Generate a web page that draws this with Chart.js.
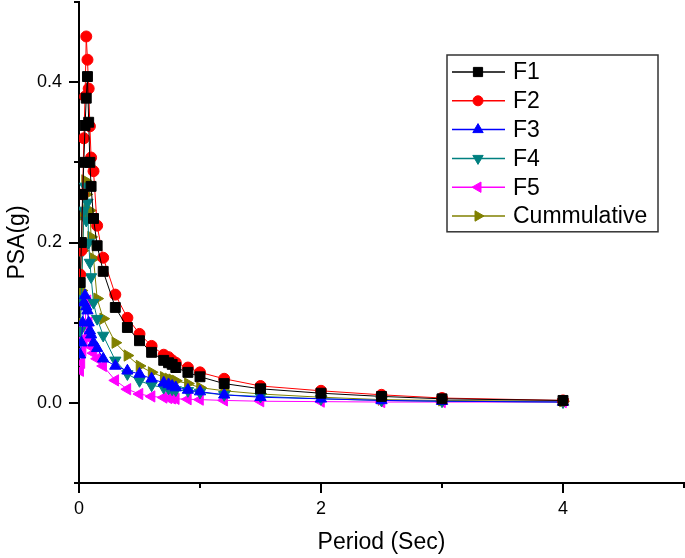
<!DOCTYPE html>
<html>
<head>
<meta charset="utf-8">
<script src="https://cdn.jsdelivr.net/npm/chart.js@4/dist/chart.umd.min.js"></script>
<style>
  html, body { margin: 0; padding: 0; background: #fff; }
</style>
</head>
<body>
<canvas id="psa" width="685" height="558"></canvas>
<script>
// Period (Sec)
let periods = [0.01, 0.02, 0.03, 0.04, 0.05, 0.06, 0.07, 0.08, 0.09, 0.1, 0.12, 0.15, 0.2, 0.3, 0.4, 0.5, 0.6, 0.7, 0.74, 0.77, 0.8, 0.9, 1.0, 1.2, 1.5, 2.0, 2.5, 3.0, 4.0];

// PSA(g) per source
let f1 = [0.15, 0.2, 0.26, 0.3, 0.346, 0.38, 0.407, 0.35, 0.3, 0.27, 0.23, 0.196, 0.164, 0.119, 0.094, 0.0775, 0.063, 0.053, 0.05, 0.048, 0.044, 0.038, 0.0325, 0.024, 0.0175, 0.012, 0.008, 0.005, 0.003];
let f2 = [0.16, 0.19, 0.26, 0.33, 0.382, 0.457, 0.428, 0.392, 0.345, 0.306, 0.289, 0.221, 0.181, 0.135, 0.106, 0.086, 0.071, 0.06, 0.057, 0.053, 0.05, 0.044, 0.038, 0.03, 0.021, 0.015, 0.01, 0.006, 0.003];
let f3 = [0.06, 0.075, 0.1, 0.125, 0.134, 0.12, 0.115, 0.1, 0.09, 0.085, 0.075, 0.068, 0.055, 0.046, 0.04, 0.036, 0.03, 0.025, 0.023, 0.021, 0.019, 0.016, 0.014, 0.01, 0.007, 0.005, 0.003, 0.002, 0.001];
let f4 = [0.09, 0.13, 0.19, 0.24, 0.27, 0.2275, 0.25, 0.2, 0.175, 0.157, 0.125, 0.105, 0.084, 0.053, 0.036, 0.0275, 0.022, 0.019, 0.018, 0.017, 0.016, 0.015, 0.013, 0.01, 0.008, 0.005, 0.003, 0.002, 0.001];
let f5 = [0.04, 0.05, 0.065, 0.08, 0.096, 0.124, 0.1275, 0.1, 0.08, 0.07, 0.062, 0.055, 0.046, 0.028, 0.017, 0.011, 0.008, 0.0066, 0.006, 0.0055, 0.005, 0.0045, 0.004, 0.003, 0.002, 0.0015, 0.001, 0.001, 0.001];
let cumm = [0.1, 0.14, 0.19, 0.235, 0.2775, 0.26, 0.24, 0.23, 0.24, 0.207, 0.18, 0.13, 0.105, 0.075, 0.059, 0.046, 0.038, 0.032, 0.03, 0.029, 0.0275, 0.024, 0.019, 0.015, 0.011, 0.007, 0.004, 0.003, 0.002];

let seriesNames = ["F1", "F2", "F3", "F4", "F5", "Cummulative"];

const FONT = "'Liberation Sans', Arial, sans-serif";

function pts(vals) {
  return periods.map((t, i) => ({ x: t, y: vals[i] }));
}

function series(label, vals, color, style, rotation, radius) {
  return {
    label: label,
    data: pts(vals),
    showLine: true,
    borderColor: color,
    backgroundColor: color,
    borderWidth: 1,
    pointStyle: style,
    rotation: rotation,
    pointRadius: radius,
    pointBorderWidth: 1,
    pointBackgroundColor: color,
    pointBorderColor: color,
  };
}

// tick marks: long on labelled values, short in between
const tickMarks = {
  id: "tickMarks",
  afterDraw(chart) {
    const ctx = chart.ctx;
    const xs = chart.scales.x;
    const ys = chart.scales.y;
    ctx.save();
    ctx.strokeStyle = "#000";
    ctx.lineWidth = 2;
    xs.ticks.forEach((t) => {
      const px = Math.round(xs.getPixelForValue(t.value));
      const len = Math.round(t.value) % 2 === 0 ? 10 : 5;
      ctx.beginPath();
      ctx.moveTo(px, xs.top);
      ctx.lineTo(px, xs.top + len);
      ctx.stroke();
    });
    ys.ticks.forEach((t) => {
      const py = Math.round(ys.getPixelForValue(t.value));
      const k = Math.round(t.value * 10);
      const len = k >= 0 && k % 2 === 0 ? 10 : 5;
      ctx.beginPath();
      ctx.moveTo(ys.right, py);
      ctx.lineTo(ys.right - len, py);
      ctx.stroke();
    });
    ctx.restore();
  },
};

// boxed legend inside the plot area
const boxLegend = {
  id: "boxLegend",
  afterDraw(chart) {
    const ctx = chart.ctx;
    const area = chart.chartArea;
    const right = area.right - 26;
    const left = right - 211;
    const top = area.top + 53;
    const rowH = 28.8;
    const sets = chart.data.datasets;
    ctx.save();
    ctx.strokeStyle = "#333";
    ctx.lineWidth = 1.5;
    ctx.strokeRect(left, top, right - left, rowH * sets.length + 4);
    sets.forEach((ds, i) => {
      const y = top + 17 + i * rowH;
      ctx.strokeStyle = ds.borderColor;
      ctx.lineWidth = 1.5;
      ctx.beginPath();
      ctx.moveTo(left + 5, y);
      ctx.lineTo(left + 58, y);
      ctx.stroke();
      ctx.fillStyle = ds.backgroundColor;
      ctx.strokeStyle = ds.borderColor;
      ctx.lineWidth = 1;
      Chart.helpers.drawPoint(ctx, {
        pointStyle: ds.pointStyle,
        rotation: ds.rotation,
        radius: ds.pointRadius - 0.5,
        borderWidth: 1,
      }, left + 31, y);
      ctx.fillStyle = "#000";
      ctx.font = "23px " + FONT;
      ctx.textBaseline = "middle";
      ctx.textAlign = "left";
      ctx.fillText(ds.label, left + 66, y + 1);
    });
    ctx.restore();
  },
};

let ctx = document.getElementById("psa").getContext("2d");
let PSA = new Chart(ctx, {
  type: "scatter",
  data: {
    datasets: [
      series(seriesNames[0], f1, "#000000", "rect", 0, 7),
      series(seriesNames[1], f2, "#ff0000", "circle", 0, 5.5),
      series(seriesNames[2], f3, "#0000ff", "triangle", 0, 6.5),
      series(seriesNames[3], f4, "#008080", "triangle", 180, 6.5),
      series(seriesNames[4], f5, "#ff00ff", "triangle", 270, 6.5),
      series(seriesNames[5], cumm, "#808000", "triangle", 90, 6.5),
    ],
  },
  options: {
    responsive: false,
    animation: false,
    devicePixelRatio: 1,
    layout: { autoPadding: false, padding: { top: 2, right: 1, left: 0, bottom: 0 } },
    plugins: {
      legend: { display: false },
      tooltip: { enabled: false },
    },
    scales: {
      x: {
        type: "linear",
        min: 0,
        max: 5,
        afterFit: (s) => {
          s.height = 75;
          s.paddingLeft = 0;
          s.paddingRight = 0;
        },
        grid: { display: false, drawTicks: false },
        border: { display: true, color: "#000", width: 2 },
        ticks: {
          stepSize: 1,
          padding: 15,
          color: "#000",
          font: { family: FONT, size: 18 },
          maxRotation: 0,
          callback: (v) => (Math.round(v) % 2 === 0 ? String(v) : ""),
        },
        title: {
          display: true,
          text: "Period (Sec)",
          color: "#000",
          font: { family: FONT, size: 23 },
          padding: { bottom: 2 },
        },
      },
      y: {
        type: "linear",
        min: -0.1,
        max: 0.5,
        afterFit: (s) => {
          s.width = 79;
          s.paddingTop = 0;
          s.paddingBottom = 0;
        },
        grid: { display: false, drawTicks: false },
        border: { display: true, color: "#000", width: 2 },
        ticks: {
          stepSize: 0.1,
          padding: 17,
          color: "#000",
          font: { family: FONT, size: 18 },
          callback: (v) => {
            const k = Math.round(v * 10);
            return k >= 0 && k % 2 === 0 ? (k / 10).toFixed(1) : "";
          },
        },
        title: {
          display: true,
          text: "PSA(g)",
          color: "#000",
          font: { family: FONT, size: 23 },
          padding: { top: 4 },
        },
      },
    },
  },
  plugins: [tickMarks, boxLegend],
});
</script>
</body>
</html>
